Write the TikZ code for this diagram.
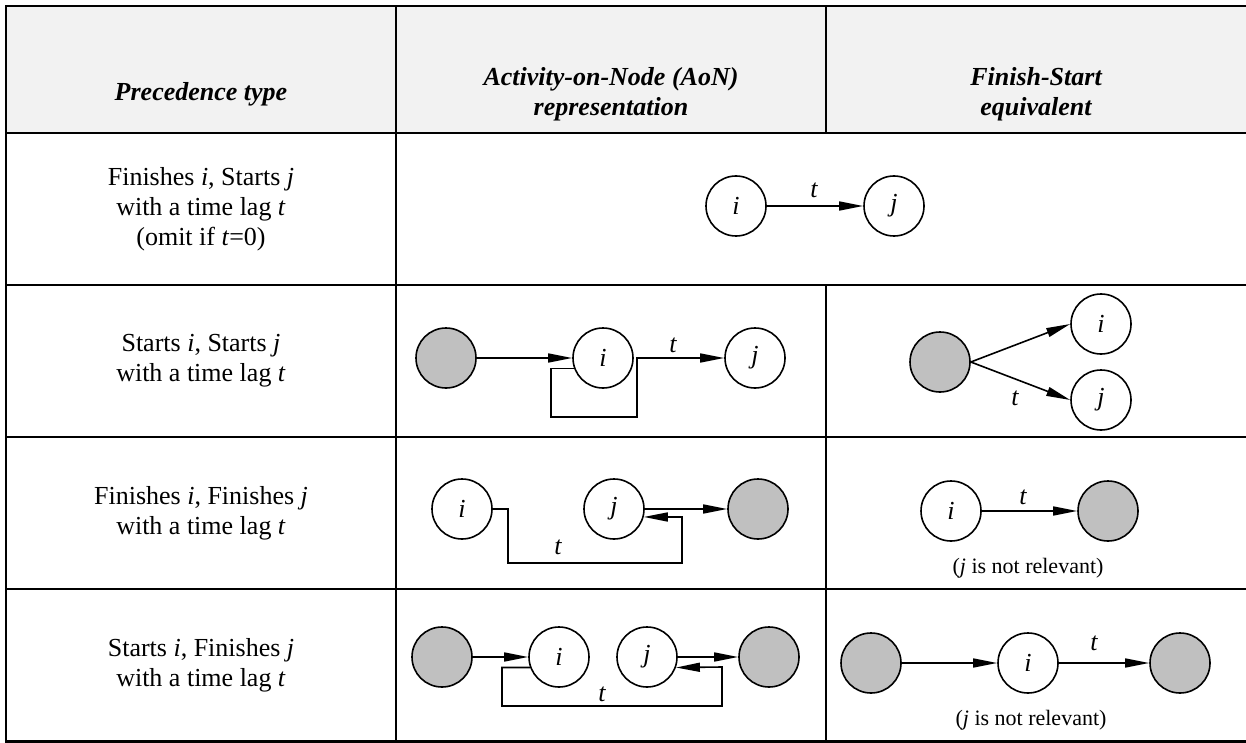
\documentclass[tikz,border=0pt]{standalone}
\usepackage{fontspec}
\setmainfont{Liberation Serif}
\usetikzlibrary{arrows.meta}
\definecolor{hdrgray}{HTML}{F2F2F2}
\definecolor{dumgray}{HTML}{C0C0C0}

\begin{document}
\begin{tikzpicture}[x=0.5pt,y=-0.5pt,
  act/.style={circle,draw,line width=0.8pt,minimum size=30pt,inner sep=0pt,
    font=\fontsize{13}{15}\selectfont\itshape},
  dum/.style={act,fill=dumgray},
  lnk/.style={line width=0.8pt,-{Triangle[length=12pt,width=4.5pt]}},
  lag/.style={font=\fontsize{13}{15}\selectfont\itshape},
  cell/.style={align=center,font=\fontsize{13}{15}\selectfont},
  hdr/.style={align=center,font=\fontsize{13}{15}\selectfont\bfseries\itshape},
  note/.style={font=\fontsize{11}{13}\selectfont},
  rule/.style={line width=1.15pt}]
\useasboundingbox (0,0) rectangle (1246,743);
\fill[hdrgray] (6,6) rectangle (1246,133);
% table rules
\draw[rule] (1246,6) -- (6,6) -- (6,741.5) -- (1246,741.5);
\foreach \y in {133,285,437,589} \draw[rule] (6,\y) -- (1246,\y);
\draw[rule] (396,6) -- (396,741.5);
\draw[rule] (826,6) -- (826,133);
\draw[rule] (826,285) -- (826,741.5);
% header
\node[hdr] (h1) at (201,94) {Precedence type};
\node[hdr] (h2) at (611,94) {Activity-on-Node (AoN)\\representation};
\node[hdr] (h3) at (1036,94) {Finish-Start\\equivalent};
% precedence types
\node[cell] (p1) at (201,209) {Finishes \textit{i}, Starts \textit{j}\\with a time lag \textit{t}\\(omit if \textit{t}=0)};
\node[cell] (p2) at (201,361) {Starts \textit{i}, Starts \textit{j}\\with a time lag \textit{t}};
\node[cell] (p3) at (201,513) {Finishes \textit{i}, Finishes \textit{j}\\with a time lag \textit{t}};
\node[cell] (p4) at (201,665) {Starts \textit{i}, Finishes \textit{j}\\with a time lag \textit{t}};
% row 1
\node[act] (i1) at (736,206) {i};
\node[act] (j1) at (894,206) {j};
\draw[lnk] (i1) -- (j1);
\node[lag] (t1) at (814,190) {t};
% row 2, AoN
\node[dum] (s2) at (446,358) {};
\node[act] (i2) at (603,358) {i};
\node[act] (j2) at (755,358) {j};
\draw[lnk] (s2) -- (i2);
\draw[lnk] (i2.200) -| (551,417) -| (637,358) -- (j2);
\node[lag] (t2) at (673,345) {t};
% row 2, FS
\node[dum] (s2f) at (940,362) {};
\node[act] (i2f) at (1101,324) {i};
\node[act] (j2f) at (1101,400) {j};
\draw[lnk] (s2f.east) -- (i2f.west);
\draw[lnk] (s2f.east) -- (j2f.west);
\node[lag] (t2f) at (1015,398) {t};
% row 3, AoN
\node[act] (i3) at (462,509) {i};
\node[act] (j3) at (614,509) {j};
\node[dum] (f3) at (758,509) {};
\draw[lnk] (j3) -- (f3);
\draw[lnk] (i3.east) -| (508,563) -| (682,517) -- (j3.-15);
\node[lag] (t3) at (558,547) {t};
% row 3, FS
\node[act] (i3f) at (951,511) {i};
\node[dum] (f3f) at (1108,511) {};
\draw[lnk] (i3f) -- (f3f);
\node[lag] (t3f) at (1023,497) {t};
\node[note] (n3) at (1028,568) {(\textit{j} is not relevant)};
% row 4, AoN
\node[dum] (s4) at (442,657) {};
\node[act] (i4) at (559,657) {i};
\node[act] (j4) at (647,657) {j};
\node[dum] (f4) at (769,657) {};
\draw[lnk] (s4) -- (i4);
\draw[lnk] (j4) -- (f4);
\draw[lnk] (i4.200) -| (502,706) -| (722,667) -- (j4.-20);
\node[lag] (t4) at (602,694) {t};
% row 4, FS
\node[dum] (s4f) at (871,663) {};
\node[act] (i4f) at (1028,663) {i};
\node[dum] (f4f) at (1180,663) {};
\draw[lnk] (s4f) -- (i4f);
\draw[lnk] (i4f) -- (f4f);
\node[lag] (t4f) at (1094,643) {t};
\node[note] (n4) at (1031,720) {(\textit{j} is not relevant)};
\end{tikzpicture}
\end{document}
